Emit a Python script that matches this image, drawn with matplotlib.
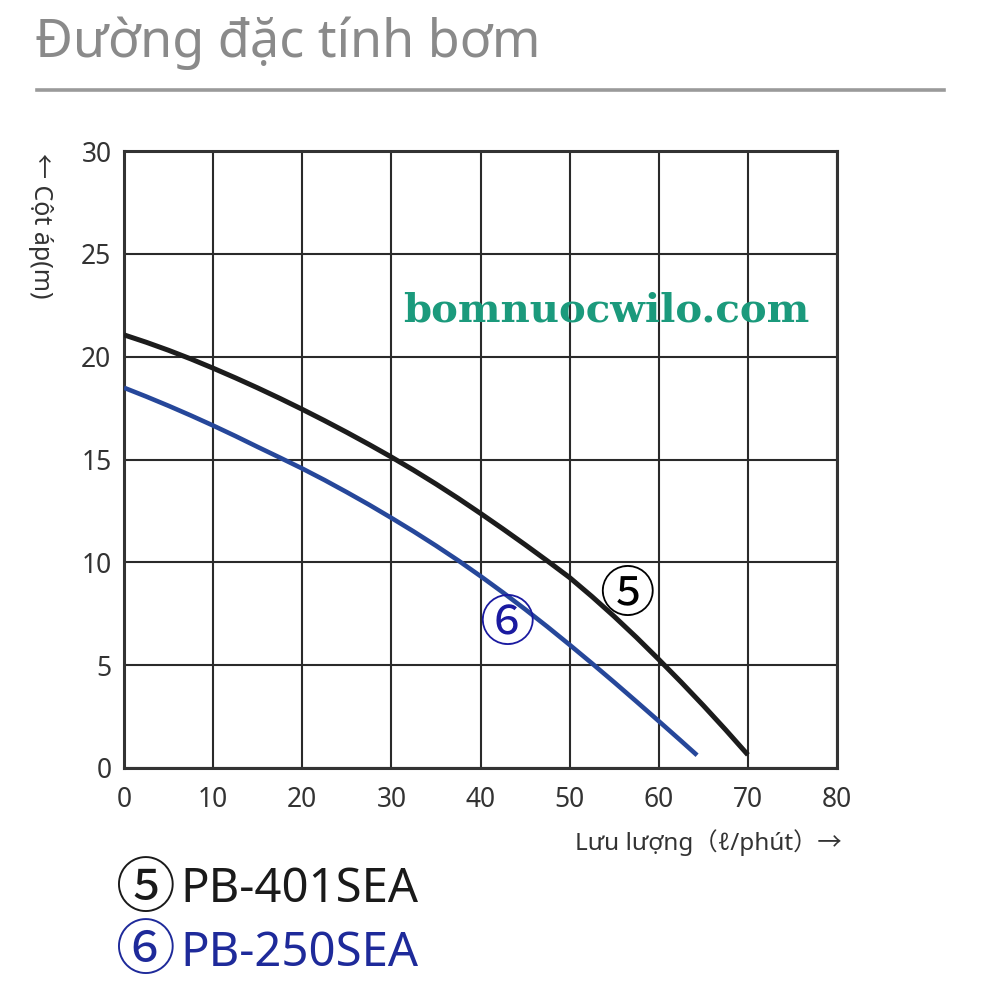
import matplotlib
matplotlib.use("Agg")
import matplotlib.pyplot as plt
from matplotlib.lines import Line2D

# ---- data ----
flow_401 = [0, 2.5, 5, 7.5, 10, 12.5, 15, 17.5, 20, 22.5, 25, 27.5, 30, 32.5, 35, 37.5,
            40, 42.5, 45, 47.5, 50, 52.5, 55, 57.5, 60, 62.5, 65, 67.5, 70]
head_401 = [21.06, 20.70, 20.31, 19.89, 19.44, 18.97, 18.48, 17.97, 17.44, 16.89, 16.32,
            15.73, 15.12, 14.48, 13.81, 13.11, 12.38, 11.63, 10.86, 10.07, 9.26, 8.34,
            7.37, 6.35, 5.28, 4.18, 3.04, 1.86, 0.64]
flow_250 = [0, 2.5, 5, 7.5, 10, 12.5, 15, 17.5, 20, 22.5, 25, 27.5, 30, 32.5, 35, 37.5,
            40, 42.5, 45, 47.5, 50, 52.5, 55, 57.5, 60, 62.5, 64.3]
head_250 = [18.49, 18.06, 17.61, 17.14, 16.65, 16.14, 15.61, 15.09, 14.56, 14.00, 13.41,
            12.80, 12.16, 11.50, 10.81, 10.09, 9.33, 8.54, 7.72, 6.87, 5.99, 5.09, 4.17,
            3.23, 2.28, 1.32, 0.62]
x_ticks = [0, 10, 20, 30, 40, 50, 60, 70, 80]
y_ticks = [0, 5, 10, 15, 20, 25, 30]
title = "Đường đặc tính bơm"
xlabel = "Lưu lượng（ℓ/phút）→"
ylabel = "← Cột áp(m)"
legend_marks = ["⑤", "⑥"]
legend_names = ["PB-401SEA", "PB-250SEA"]
watermark = "bomnuocwilo.com"

FAM = ['Noto Sans', 'Noto Sans CJK JP', 'DejaVu Sans']
CJK = ['Noto Sans CJK JP', 'DejaVu Sans']
plt.rcParams['font.family'] = FAM

fig = plt.figure(figsize=(10, 10), dpi=100)
ax = fig.add_axes([0.124, 0.232, 0.713, 0.617])

ax.plot(flow_401, head_401, color='#1c1c1c', lw=3.6, solid_capstyle='butt',
        solid_joinstyle='round', zorder=3)
ax.plot(flow_250, head_250, color='#26479a', lw=3.3, solid_capstyle='butt',
        solid_joinstyle='round', zorder=3)

ax.set_xlim(0, 80)
ax.set_ylim(0, 30)
ax.set_xticks(x_ticks)
ax.set_yticks(y_ticks)
ax.grid(True, color='#2a2a2a', lw=1.5)
ax.set_axisbelow(True)
for s in ax.spines.values():
    s.set_color('#333333')
    s.set_linewidth(2.2)
ax.tick_params(length=0, labelsize=19, colors='#333333')
ax.tick_params(axis='x', pad=13)
ax.tick_params(axis='y', pad=9)

# in-chart labels
ax.text(56.4, 8.35, legend_marks[0], fontsize=40, color='black', ha='center', va='center',
        family=CJK, zorder=4)
ax.text(43.0, 6.95, legend_marks[1], fontsize=40, color='#1a1aa0', ha='center', va='center',
        family=CJK, zorder=4)

# watermark
ax.text(0.676, 0.741, watermark, transform=ax.transAxes, fontsize=29,
        family='DejaVu Serif', weight='bold', color='#1b9a7c',
        ha='center', va='center', zorder=5)

# title and rule
fig.text(0.035, 0.957, title, fontsize=37.5, color='#8a8a8a', ha='left', va='center')
fig.add_artist(Line2D([0.037, 0.944], [0.910, 0.910], color='#9a9a9a', lw=2.6,
                      transform=fig.transFigure))

# axis labels
fig.text(0.842, 0.157, xlabel, fontsize=17.5, color='#333333', ha='right', va='center')
fig.text(0.040, 0.847, ylabel, fontsize=18, color='#333333', ha='center', va='top',
         rotation=270)

# legend lines
legend_colors = ['#1a1a1a', '#1e2a9a']
legend_y = [0.110, 0.047]
for mark, name, c, yy in zip(legend_marks, legend_names, legend_colors, legend_y):
    fig.text(0.146, yy, mark, fontsize=43, color=c, ha='center', va='center', family=CJK)
    fig.text(0.180, yy, name, fontsize=34, color=c, ha='left', va='center')

fig.savefig("out.png", dpi=100, facecolor='white')
